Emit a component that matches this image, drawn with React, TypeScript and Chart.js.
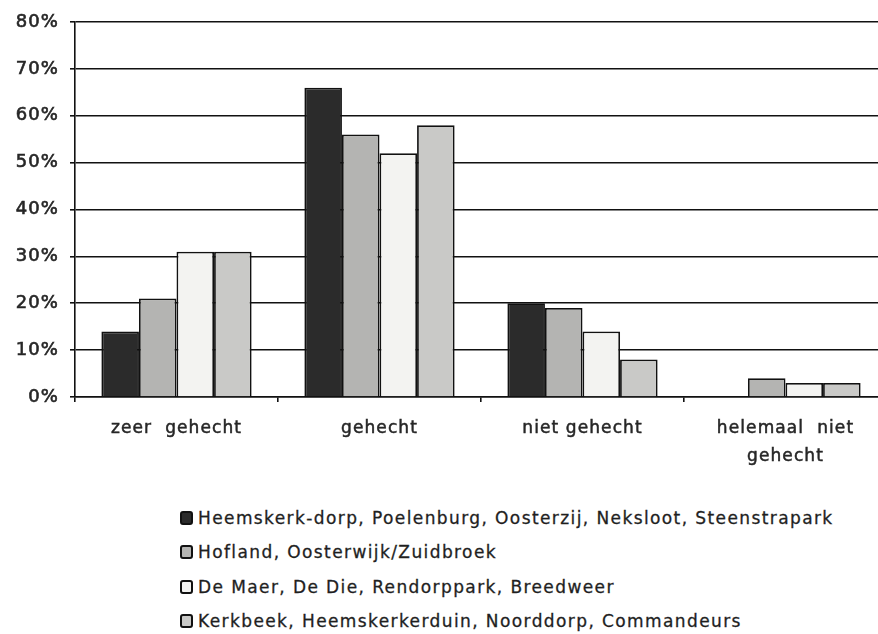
import React, { useEffect, useRef } from "react";
import { Chart, registerables } from "chart.js";

Chart.register(...registerables);

const categories: (string | string[])[] = [
  "zeer  gehecht",
  "gehecht",
  "niet gehecht",
  ["helemaal  niet", "gehecht"],
];
const seriesLabels = [
  "Heemskerk-dorp, Poelenburg, Oosterzij, Neksloot, Steenstrapark",
  "Hofland, Oosterwijk/Zuidbroek",
  "De Maer, De Die, Rendorppark, Breedweer",
  "Kerkbeek, Heemskerkerduin, Noorddorp, Commandeurs",
];
const heemskerkDorp = [14, 66, 20, 0];
const hofland = [21, 56, 19, 4];
const deMaer = [31, 52, 14, 3];
const kerkbeek = [31, 58, 8, 3];
const seriesColors = ["#2b2b2b", "#b4b4b2", "#f3f3f1", "#c9c9c7"];
const yTicks = [0, 10, 20, 30, 40, 50, 60, 70, 80];

const FONT = "'DejaVu Sans', Verdana, sans-serif";
const TEXT = "#262626";

const trackingPlugin = {
  id: "tracking",
  beforeDraw(chart: any) {
    chart.ctx.letterSpacing = "1.1px";
  },
};

export default function App() {
  const ref = useRef<HTMLCanvasElement | null>(null);
  useEffect(() => {
    if (!ref.current) return;
    const values = [heemskerkDorp, hofland, deMaer, kerkbeek];
    const chart = new Chart(ref.current, {
      type: "bar",
      data: {
        labels: categories,
        datasets: values.map((v, i) => ({
          label: seriesLabels[i],
          data: v,
          backgroundColor: seriesColors[i],
          borderColor: "#111",
          borderWidth: 1.8,
          categoryPercentage: 0.74,
          barPercentage: 1,
        })),
      },
      plugins: [trackingPlugin],
      options: {
        animation: false,
        responsive: false,
        maintainAspectRatio: false,
        layout: { padding: { left: 8, top: 22, right: 3, bottom: 0 } },
        plugins: { legend: { display: false }, tooltip: { enabled: false } },
        scales: {
          y: {
            min: 0,
            max: 80,
            afterBuildTicks: (s: any) => {
              s.ticks = yTicks.map((v) => ({ value: v }));
            },
            afterFit: (s: any) => {
              s.width = 67;
            },
            ticks: {
              callback: (v: any) => v + "%",
              color: TEXT,
              font: { family: FONT, size: 18 },
              padding: 11,
              textStrokeColor: TEXT,
              textStrokeWidth: 0.6,
            },
            grid: {
              color: "#111",
              lineWidth: 1.6,
              tickLength: 5,
              tickColor: "#111",
            },
            border: { color: "#111", width: 1.6 },
          },
          x: {
            afterFit: (s: any) => {
              s.height = 83;
            },
            ticks: {
              color: TEXT,
              font: { family: FONT, size: 17, lineHeight: 1.65 },
              padding: 13,
              maxRotation: 0,
              autoSkip: false,
              textStrokeColor: TEXT,
              textStrokeWidth: 0.5,
            },
            grid: {
              drawOnChartArea: false,
              drawTicks: true,
              tickLength: 5,
              tickColor: "#111",
              lineWidth: 1.6,
              offset: true,
            },
            border: { color: "#111", width: 1.6 },
          },
        },
      },
    });
    return () => chart.destroy();
  }, []);

  return (
    <div
      style={{
        position: "absolute",
        left: 0,
        top: 0,
        width: 878,
        height: 634,
        background: "#fff",
        overflow: "hidden",
      }}
    >
      <canvas ref={ref} width={890} height={480} style={{ display: "block" }} />
      <div
        style={{
          position: "absolute",
          left: 180,
          top: 501,
          fontFamily: FONT,
          fontSize: 17,
          letterSpacing: "1.4px",
          color: "#1f1f1f",
          whiteSpace: "nowrap",
          WebkitTextStroke: "0.3px #1f1f1f",
        }}
      >
        {seriesLabels.map((l, i) => (
          <div key={i} style={{ height: 34.3, display: "flex", alignItems: "center" }}>
            <span
              style={{
                display: "inline-block",
                boxSizing: "border-box",
                width: 13,
                height: 14,
                background: seriesColors[i],
                border: "2px solid #111",
                borderRadius: 3,
                marginRight: 5,
                flex: "none",
              }}
            />
            {l}
          </div>
        ))}
      </div>
    </div>
  );
}
